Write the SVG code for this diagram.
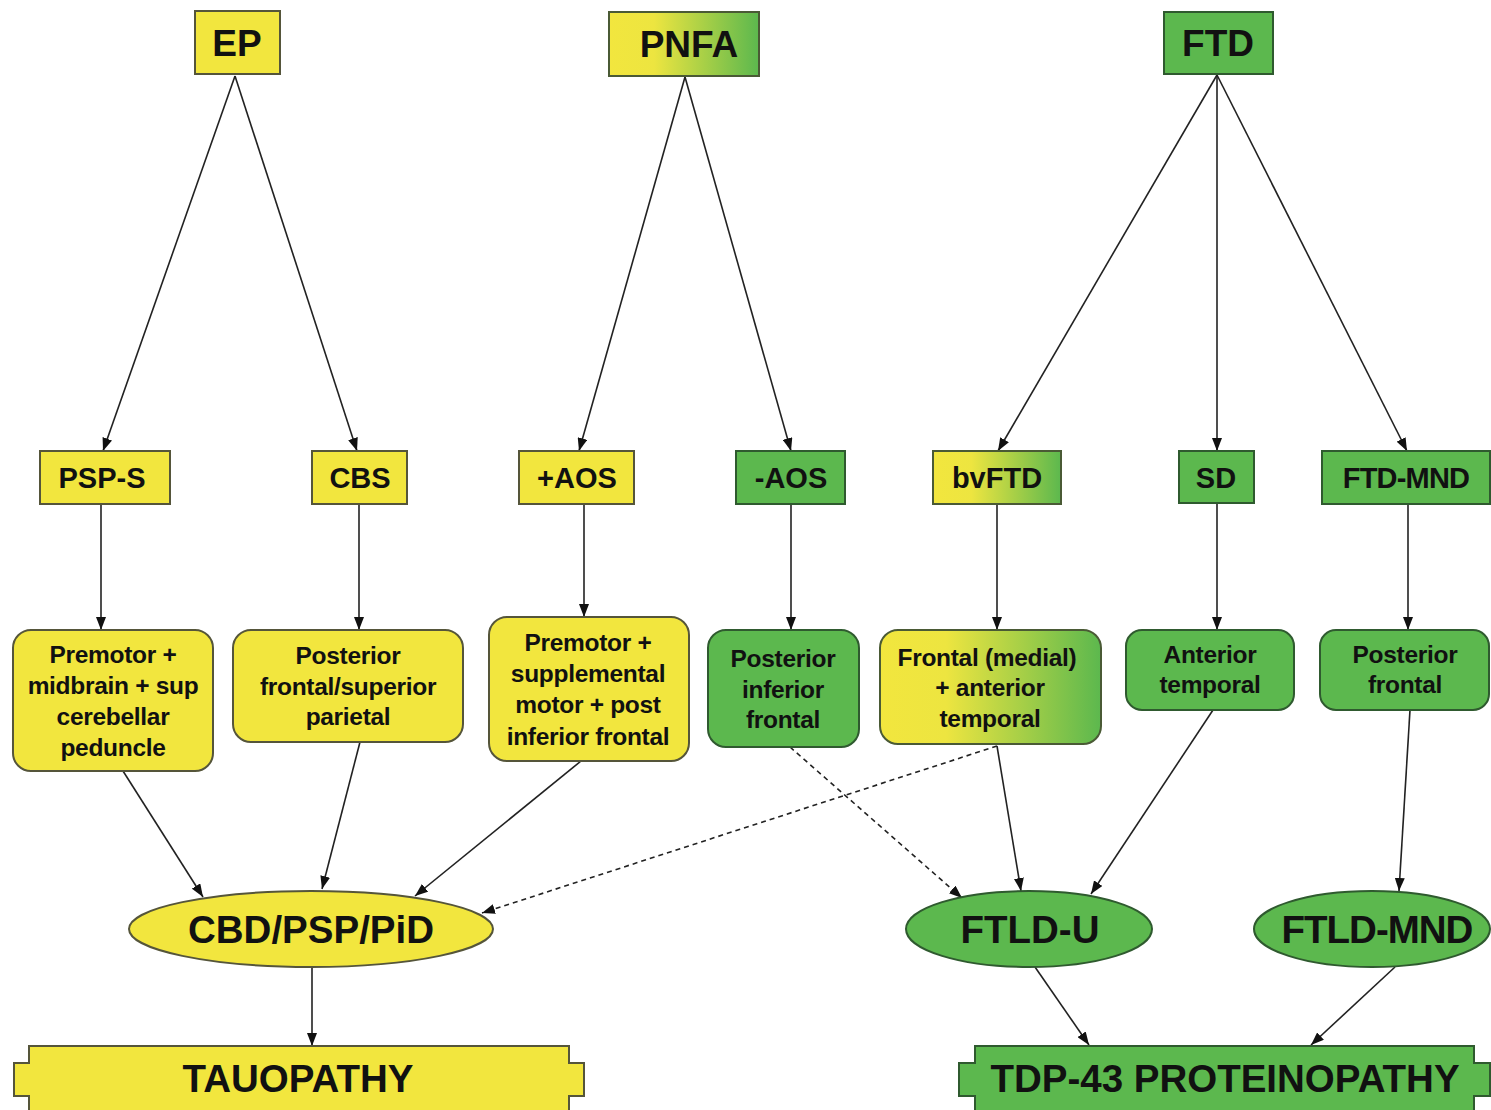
<svg xmlns="http://www.w3.org/2000/svg" width="1491" height="1110" viewBox="0 0 1491 1110">
<defs>
<linearGradient id="yg" x1="0" y1="0" x2="1" y2="0">
<stop offset="0" stop-color="#F2E63E"/>
<stop offset="0.3" stop-color="#EDE540"/>
<stop offset="1" stop-color="#5CB84E"/>
</linearGradient>
<marker id="ah" markerUnits="userSpaceOnUse" markerWidth="14" markerHeight="10" refX="13" refY="5" orient="auto">
<path d="M0,0 L13,5 L0,10 z" fill="#111"/>
</marker>
<style>
.y{fill:#F2E63E;stroke:#55553a;stroke-width:2}
.g{fill:#5CB84E;stroke:#2f5a2f;stroke-width:2}
.gr{fill:url(#yg);stroke:#4a5a35;stroke-width:2}
text{font-family:"Liberation Sans",Arial,sans-serif;font-weight:bold;fill:#111;text-anchor:middle}
.t1{font-size:37px}
.t2{font-size:29px}
.t3{font-size:24.5px;letter-spacing:-0.3px}
.t4{font-size:38.5px}
.c{stroke:#222;stroke-width:1.6;fill:none;marker-end:url(#ah)}
.d{stroke:#222;stroke-width:1.6;fill:none;stroke-dasharray:5,4;marker-end:url(#ah)}
</style>
</defs>
<rect width="1491" height="1110" fill="#fff"/>

<g id="connectors">
<line class="c" x1="235" y1="76" x2="103" y2="451"/>
<line class="c" x1="235" y1="76" x2="357" y2="451"/>
<line class="c" x1="685" y1="77" x2="579" y2="451"/>
<line class="c" x1="685" y1="77" x2="791" y2="451"/>
<line class="c" x1="1217" y1="75" x2="998" y2="451"/>
<line class="c" x1="1217" y1="75" x2="1217" y2="451"/>
<line class="c" x1="1217" y1="75" x2="1407" y2="451"/>
<line class="c" x1="101" y1="504" x2="101" y2="630"/>
<line class="c" x1="359" y1="504" x2="359" y2="630"/>
<line class="c" x1="584" y1="504" x2="584" y2="617"/>
<line class="c" x1="791" y1="504" x2="791" y2="630"/>
<line class="c" x1="997" y1="504" x2="997" y2="630"/>
<line class="c" x1="1217" y1="503" x2="1217" y2="630"/>
<line class="c" x1="1408" y1="504" x2="1408" y2="630"/>
<line class="c" x1="123" y1="771" x2="203" y2="897"/>
<line class="c" x1="360" y1="742" x2="322" y2="889"/>
<line class="c" x1="581" y1="761" x2="415" y2="896"/>
<line class="d" x1="997" y1="746" x2="482" y2="913"/>
<line class="d" x1="790" y1="747" x2="962" y2="898"/>
<line class="c" x1="997" y1="746" x2="1021" y2="891"/>
<line class="c" x1="1213" y1="710" x2="1091" y2="894"/>
<line class="c" x1="1410" y1="710" x2="1399" y2="891"/>
<line class="c" x1="312" y1="967" x2="312" y2="1046"/>
<line class="c" x1="1035" y1="967" x2="1089" y2="1045"/>
<line class="c" x1="1395" y1="967" x2="1311" y2="1045"/>
</g>

<g id="EP"><rect class="y" x="195" y="11" width="85" height="63"/><text class="t1" x="237" y="56">EP</text></g>
<g id="PNFA"><rect class="gr" x="609" y="12" width="150" height="64"/><text class="t1" x="689" y="57">PNFA</text></g>
<g id="FTD"><rect class="g" x="1164" y="12" width="109" height="62"/><text class="t1" x="1218" y="56">FTD</text></g>

<g id="PSP-S"><rect class="y" x="40" y="451" width="130" height="53"/><text class="t2" x="102" y="488">PSP-S</text></g>
<g id="CBS"><rect class="y" x="312" y="451" width="95" height="53"/><text class="t2" x="360" y="488">CBS</text></g>
<g id="plusAOS"><rect class="y" x="519" y="451" width="115" height="53"/><text class="t2" x="577" y="488">+AOS</text></g>
<g id="minusAOS"><rect class="g" x="736" y="451" width="109" height="53"/><text class="t2" x="791" y="488">-AOS</text></g>
<g id="bvFTD"><rect class="gr" x="933" y="451" width="128" height="53"/><text class="t2" x="997" y="488">bvFTD</text></g>
<g id="SD"><rect class="g" x="1179" y="451" width="75" height="52"/><text class="t2" x="1216" y="488">SD</text></g>
<g id="FTD-MND"><rect class="g" x="1322" y="451" width="168" height="53"/><text class="t2" x="1406" y="488" letter-spacing="-0.8">FTD-MND</text></g>

<g id="box1"><rect class="y" x="13" y="630" width="200" height="141" rx="18"/>
<text class="t3" x="113"><tspan x="113" y="663">Premotor +</tspan><tspan x="113" y="694">midbrain + sup</tspan><tspan x="113" y="725">cerebellar</tspan><tspan x="113" y="756">peduncle</tspan></text></g>
<g id="box2"><rect class="y" x="233" y="630" width="230" height="112" rx="18"/>
<text class="t3" x="348"><tspan x="348" y="664">Posterior</tspan><tspan x="348" y="695">frontal/superior</tspan><tspan x="348" y="725">parietal</tspan></text></g>
<g id="box3"><rect class="y" x="489" y="617" width="200" height="144" rx="18"/>
<text class="t3" x="588"><tspan x="588" y="651">Premotor +</tspan><tspan x="588" y="682">supplemental</tspan><tspan x="588" y="713">motor + post</tspan><tspan x="588" y="745">inferior frontal</tspan></text></g>
<g id="box4"><rect class="g" x="708" y="630" width="151" height="117" rx="18"/>
<text class="t3" x="783"><tspan x="783" y="667">Posterior</tspan><tspan x="783" y="698">inferior</tspan><tspan x="783" y="728">frontal</tspan></text></g>
<g id="box5"><rect class="gr" x="880" y="630" width="221" height="114" rx="18"/>
<text class="t3" x="990"><tspan x="987" y="666">Frontal (medial)</tspan><tspan x="990" y="696">+ anterior</tspan><tspan x="990" y="727">temporal</tspan></text></g>
<g id="box6"><rect class="g" x="1126" y="630" width="168" height="80" rx="16"/>
<text class="t3" x="1210"><tspan x="1210" y="663">Anterior</tspan><tspan x="1210" y="693">temporal</tspan></text></g>
<g id="box7"><rect class="g" x="1320" y="630" width="169" height="80" rx="16"/>
<text class="t3" x="1405"><tspan x="1405" y="663">Posterior</tspan><tspan x="1405" y="693">frontal</tspan></text></g>

<g id="CBD-PSP-PiD"><ellipse class="y" cx="311" cy="929" rx="182" ry="38"/><text class="t4" x="311" y="943">CBD/PSP/PiD</text></g>
<g id="FTLD-U"><ellipse class="g" cx="1029" cy="929" rx="123" ry="38"/><text class="t4" x="1030" y="943">FTLD-U</text></g>
<g id="FTLD-MND"><ellipse class="g" cx="1372" cy="929" rx="118" ry="38"/><text class="t4" x="1377" y="943" letter-spacing="-1">FTLD-MND</text></g>

<g id="TAUOPATHY"><path class="y" d="M29,1046 H569 V1063 H584 V1096 H569 V1112 H29 V1096 H14 V1063 H29 Z"/><text class="t4" x="298" y="1092">TAUOPATHY</text></g>
<g id="TDP-43"><path class="g" d="M975,1046 H1474 V1063 H1490 V1096 H1474 V1112 H975 V1096 H959 V1063 H975 Z"/><text class="t4" x="1225" y="1092">TDP-43 PROTEINOPATHY</text></g>
</svg>
